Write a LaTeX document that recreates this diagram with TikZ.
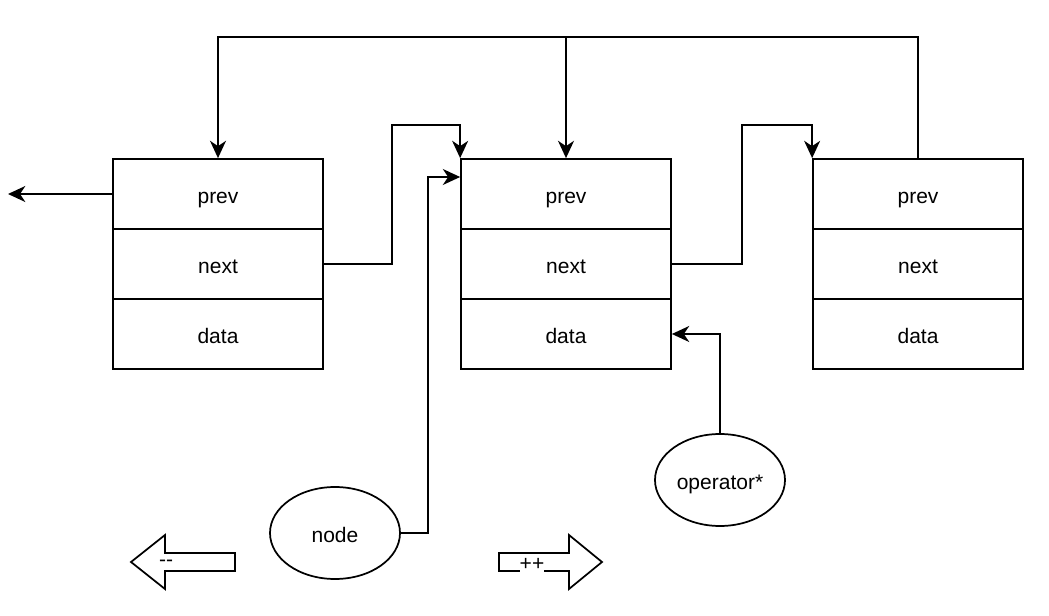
\documentclass[tikz,border=0pt]{standalone}
\usepackage{fontspec}
\setmainfont{Liberation Sans}
\usetikzlibrary{arrows.meta,shapes.geometric}
\begin{document}
\begin{tikzpicture}[x=0.75pt,y=-0.75pt,
  every node/.style={font=\fontsize{15.75}{18}\selectfont,text height=15pt,text depth=1pt},
  line width=1.3pt,
  cell/.style={draw,rectangle,minimum width=157.5pt,minimum height=52.5pt,inner sep=0pt},
  oval/.style={draw,ellipse,minimum width=97.5pt,minimum height=69pt,inner sep=0pt},
  conn/.style={-{Stealth[length=13pt,width=12pt,inset=4pt]},line join=miter},
  blockarrow/.style={draw,line join=miter},
  tag/.style={fill=white,inner sep=0pt,text height=9pt,text depth=3pt}]
\useasboundingbox (0,0) rectangle (1049,616);

% list nodes: prev / next / data cells
\node[cell] (L1) at (218,194) {prev};
\node[cell] (L2) at (218,264) {next};
\node[cell] (L3) at (218,334) {data};
\node[cell] (M1) at (566,194) {prev};
\node[cell] (M2) at (566,264) {next};
\node[cell] (M3) at (566,334) {data};
\node[cell] (R1) at (918,194) {prev};
\node[cell] (R2) at (918,264) {next};
\node[cell] (R3) at (918,334) {data};

% iterator parts
\node[oval] (N) at (335,533) {node};
\node[oval] (O) at (720,480) {operator*};

\coordinate (top) at (0,37);
\coordinate (nullend) at (8,194);

% prev links over the top
\draw[conn] (R1.north) |- (L1.north |- top) -- (L1.north);
\draw[conn] (R1.north) |- (M1.north |- top) -- (M1.north);

% next links
\draw[conn] (L2.east) -| (392,125) -| (M1.north west);
\draw[conn] (M2.east) -| (742,125) -| (R1.north west);

% prev of the first element
\draw[conn] (L1.west) -- (nullend);

% iterator pointers
\draw[conn] (N.east) -| (428,177) -- (M1.west |- 0,177);
\draw[conn] (O.north) |- (M3.east);

% decrement / increment block arrows
\draw[blockarrow] (235,553) -- (165,553) -- (165,535) -- (131,562) -- (165,589) -- (165,571) -- (235,571) -- cycle;
\node[tag] (dec) at (166,562) {{-}{-}};
\draw[blockarrow] (499,553) -- (569,553) -- (569,535) -- (602,562) -- (569,589) -- (569,571) -- (499,571) -- cycle;
\node[tag] (inc) at (532,566) {++};
\end{tikzpicture}
\end{document}
